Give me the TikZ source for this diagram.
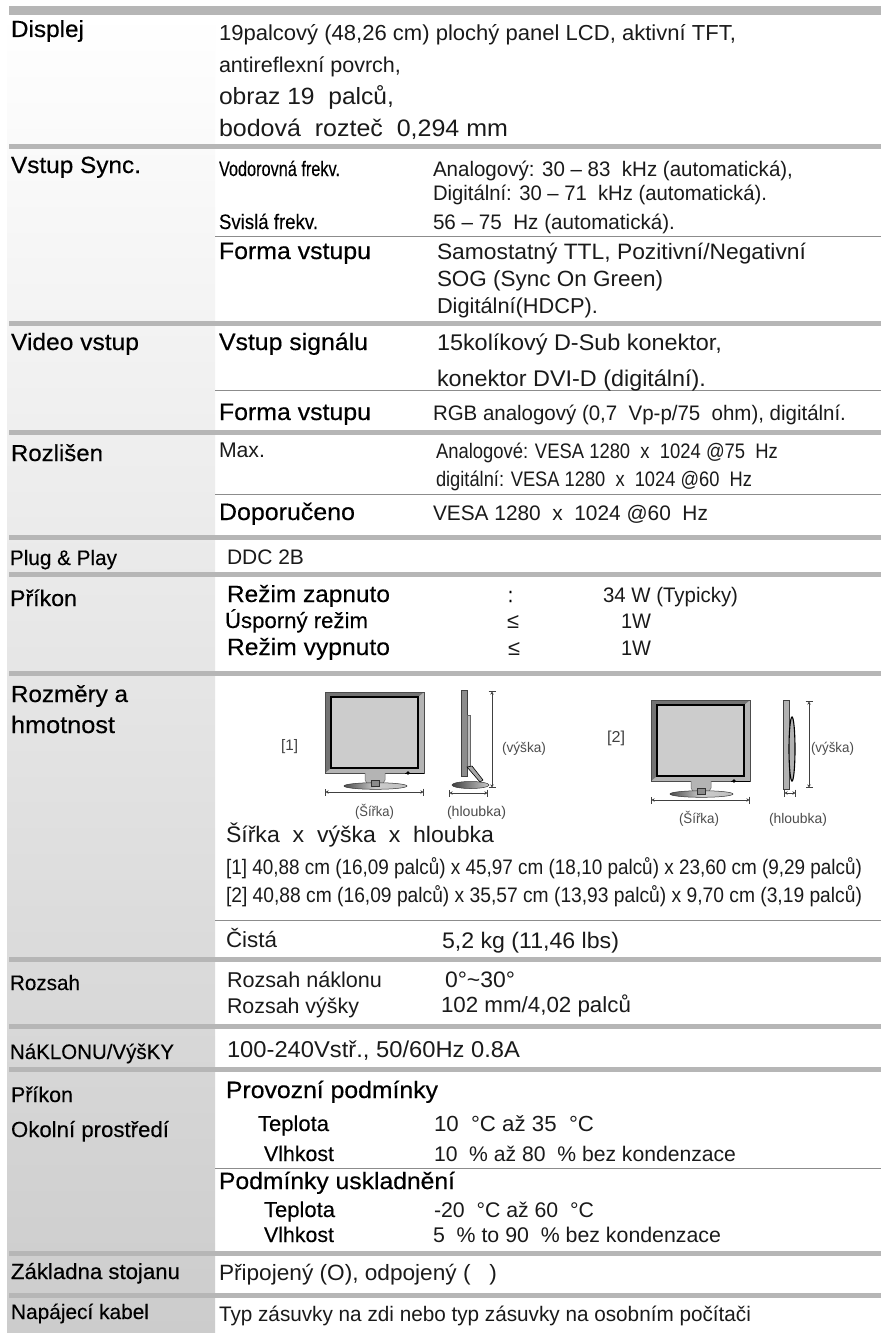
\documentclass[tikz,border=0pt]{standalone}
\usepackage{graphicx}
\usepackage{fontspec}
\usetikzlibrary{arrows.meta}
\setmainfont{Liberation Sans}
\newfontfamily\bodyf{Liberation Sans}
\newfontfamily\headf[FakeBold=0.4]{Liberation Sans}
\newfontfamily\semif[FakeBold=0.2]{Liberation Sans}
\newsavebox\fitbox
\newcommand\fitto[2]{\sbox\fitbox{#2}\pgfmathsetmacro\fitr{#1/\the\wd\fitbox}\pgfmathsetmacro\fitv{max(1,1+(\fitr-1)*0.7)}\scalebox{\fitr}[\fitv]{\usebox\fitbox}}
% name, style, x left, baseline, x right, text
\newcommand\T[6]{\pgfmathsetmacro\tw{#5-#3}\node[lbl,#2] (#1) at (#3,#4) {\fitto{\tw}{#6}};}
\definecolor{barc}{HTML}{B6B6B6}
\definecolor{linec}{HTML}{8C8C8C}
\definecolor{ink}{HTML}{1A1A1A}
\definecolor{scr}{HTML}{CCCCCC}
\definecolor{bez}{HTML}{B4B4B4}
\tikzset{
  lbl/.style={anchor=base west,inner sep=0pt,outer sep=0pt,text=ink},
  body/.style={font=\bodyf\fontsize{21}{21}\selectfont},
  head/.style={font=\headf\fontsize{21}{21}\selectfont,text=black},
  semi/.style={font=\semif\fontsize{21}{21}\selectfont,text=black},
  small/.style={font=\bodyf\fontsize{14}{14}\selectfont,text=black!70},
  tiny/.style={font=\bodyf\fontsize{15}{15}\selectfont,text=black!75},
  barline/.style={fill=barc,draw=none},
  rowline/.style={draw=linec,line width=1pt},
  dimline/.style={draw=black!75,line width=.6pt,{Bar[width=7pt].Stealth[length=3pt,width=3.5pt]}-{Stealth[length=3pt,width=3.5pt].Bar[width=7pt]}},
}
\newcommand\monfront[2]{%
  \begin{scope}[shift={(#1,#2)}]
    \fill[bez] (0,0) rectangle (99,81);
    \fill[black!55] (0,0) -- (99,0) -- (93,5) -- (6,5) -- (6,76) -- (0,81) -- cycle;
    \draw[black!70,line width=.5pt] (0,0) rectangle (99,81);
    \draw[black,line width=1.4pt,fill=scr] (6,5) rectangle (93,76);
    \fill[bez] (40,81) -- (40,88) .. controls (40,91) and (43,92) .. (46,92) -- (54,92) .. controls (57,92) and (60,91) .. (60,88) -- (60,81) -- cycle;
    \draw[black!60,line width=.5pt] (40,81) -- (40,88) .. controls (40,91) and (43,92) .. (46,92) -- (54,92) .. controls (57,92) and (60,91) .. (60,88) -- (60,81);
    \draw[black!80,line width=.5pt,left color=black!70,right color=black!25,middle color=black!20] (50.5,94) ellipse [x radius=31.5,y radius=3.3];
    \draw[black!80,line width=.6pt,fill=black!45] (46,88) rectangle (54,94);
    \fill[black] (83,81) circle [radius=1.8];
    \draw[black,line width=.9pt] (80,81) -- (99,81);
    \draw[dimline] (0,100) -- (99,100);
  \end{scope}}
\begin{document}
\begin{tikzpicture}[x=1pt,y=-1pt]
\useasboundingbox (0,0) rectangle (881,1333);
\fill[white] (0,0) rectangle (881,1333);
\shade[top color=white,bottom color=black!20,middle color=black!10] (7,12) rectangle (215,1333);
% heavy bars
\foreach \a/\b in {6/15,144/149,321/326,430/435,535/540,572/577,671/676,957/962,1024/1029,1067/1072,1251/1256,1293/1298}
  \fill[barline] (9,\a) rectangle (881,\b);
% thin lines
\foreach \a in {236,390,494,920,1168}
  \draw[rowline] (215,\a) -- (881,\a);

% Displej
\T{h1}{head}{11}{37}{84}{Displej}
\T{d1}{body}{219}{40}{736}{19palcový (48,26 cm) plochý panel LCD, aktivní TFT,}
\T{d2}{body}{219}{72}{401}{antireflexní povrch,}
\T{d3}{body}{219}{104}{394}{obraz 19~ palců,}
\T{d4}{body}{219}{136}{508}{bodová~ rozteč~ 0,294 mm}
% Vstup Sync
\T{h2}{head}{11}{173}{141}{Vstup Sync.}
\T{s1}{semi}{219}{176}{340}{Vodorovná frekv.}
\T{s2}{body}{433}{176}{793}{Analogový: 30 – 83~ kHz (automatická),}
\T{s3}{body}{433}{200}{767}{Digitální: 30 – 71~ kHz (automatická).}
\T{s4}{semi}{219}{229}{318}{Svislá frekv.}
\T{s5}{body}{433}{229}{675}{56 – 75~ Hz (automatická).}
\T{s6}{head}{219}{259}{371}{Forma vstupu}
\T{s7}{body}{437}{259}{806}{Samostatný TTL, Pozitivní/Negativní}
\T{s8}{body}{437}{286}{663}{SOG (Sync On Green)}
\T{s9}{body}{437}{313}{598}{Digitální(HDCP).}
% Video
\T{h3}{head}{11}{350}{139}{Video vstup}
\T{v1}{head}{219}{350}{368}{Vstup signálu}
\T{v2}{body}{437}{350}{722}{15kolíkový D-Sub konektor,}
\T{v3}{body}{437}{386}{706}{konektor DVI-D (digitální).}
\T{v4}{head}{219}{420}{371}{Forma vstupu}
\T{v5}{body}{433}{420}{846}{RGB analogový (0,7~ Vp-p/75~ ohm), digitální.}
% Rozliseni
\T{h4}{head}{11}{461}{103}{Rozlišen}
\T{r1}{body}{219}{457}{265}{Max.}
\T{r2}{body}{436}{458}{778}{Analogové: VESA 1280~ x~ 1024 @75~ Hz}
\T{r3}{body}{436}{486}{752}{digitální: VESA 1280~ x~ 1024 @60~ Hz}
\T{r4}{head}{219}{520}{355}{Doporučeno}
\T{r5}{body}{433}{520}{708}{VESA 1280~ x~ 1024 @60~ Hz}
% Plug
\T{h5}{semi}{10}{565}{117}{Plug \& Play}
\T{p1}{body}{227}{564}{304}{DDC 2B}
% Prikon
\T{h6}{head}{10}{606}{77}{Příkon}
\T{k1}{semi}{227}{602}{390}{Režim zapnuto}
\T{k2}{semi}{225}{628}{368}{Úsporný režim}
\T{k3}{semi}{227}{655}{390}{Režim vypnuto}
\T{k4}{head}{508}{602}{513}{:}
\T{k5}{body}{507}{628}{519}{≤}
\T{k6}{body}{508}{655}{520}{≤}
\T{k7}{body}{603}{602}{738}{34 W (Typicky)}
\T{k8}{body}{621}{628}{651}{1W}
\T{k9}{body}{621}{655}{651}{1W}
% Rozmery
\T{h7}{head}{11}{702}{128}{Rozměry a}
\T{h7b}{head}{11}{733}{115}{hmotnost}
\T{m1}{tiny}{281}{750}{298}{[1]}
\T{m2}{tiny}{607}{742}{625}{[2]}
\monfront{325}{692}
\monfront{651}{700}
% side 1
\draw[black!75,line width=.5pt,fill=black!45] (461,690) rectangle (467,776);
\draw[black!60,line width=.4pt,fill=black!25] (467,715) rectangle (470,767);
\draw[black!80,line width=.5pt,left color=black!75,right color=black!20] (470.5,785) ellipse [x radius=18.5,y radius=3.5];
\draw[black,line width=.6pt,fill=black!35] (467,767) -- (472,766) -- (483,780) -- (480,782) -- cycle;
\draw[dimline] (492,691) -- (492,788);
\draw[dimline] (449,793) -- (488,793);
\T{m3}{small}{502}{752}{546}{(výška)}
\T{m4}{small}{355}{816}{394}{(Šířka)}
\T{m5}{small}{447}{816}{506}{(hloubka)}
% side 2
\draw[black!75,line width=.5pt,fill=black!30] (783,700) rectangle (789,789);
\draw[black!60,line width=.4pt,fill=black!25] (789,725) rectangle (791,767);
\draw[black,line width=1.1pt,fill=black!30] (792,749) ellipse [x radius=3,y radius=32];
\draw[dimline] (809,701) -- (809,788);
\draw[dimline] (784,793) -- (796,793);
\T{m6}{small}{811}{752}{854}{(výška)}
\T{m7}{small}{679}{823}{719}{(Šířka)}
\T{m8}{small}{769}{823}{827}{(hloubka)}
\T{m9}{body}{226}{842}{494}{Šířka~ x~ výška~ x~ hloubka}
\T{m10}{body}{226}{874}{862}{[1] 40,88 cm (16,09 palců) x 45,97 cm (18,10 palců) x 23,60 cm (9,29 palců)}
\T{m11}{body}{226}{902}{862}{[2] 40,88 cm (16,09 palců) x 35,57 cm (13,93 palců) x 9,70 cm (3,19 palců)}
\T{m12}{body}{226}{947}{277}{Čistá}
\T{m13}{body}{442}{948}{619}{5,2 kg (11,46 lbs)}
% Rozsah
\T{h8}{semi}{10}{990}{80}{Rozsah}
\T{z1}{body}{227}{987}{382}{Rozsah náklonu}
\T{z2}{body}{227}{1013}{359}{Rozsah výšky}
\T{z3}{body}{445}{987}{515}{0°\textasciitilde 30°}
\T{z4}{body}{441}{1012}{631}{102 mm/4,02 palců}
% Naklonu
\T{h9}{semi}{10}{1059}{174}{NáKLONU/VýšKY}
\T{n1}{body}{227}{1057}{520}{100-240Vstř., 50/60Hz 0.8A}
% Prostredi
\T{h10}{semi}{11}{1102}{73}{Příkon}
\T{h10b}{semi}{11}{1137}{169}{Okolní prostředí}
\T{e1}{head}{226}{1098}{438}{Provozní podmínky}
\T{e2}{semi}{258}{1131}{329}{Teplota}
\T{e3}{body}{434}{1131}{594}{10~ °C až 35~ °C}
\T{e4}{semi}{264}{1161}{334}{Vlhkost}
\T{e5}{body}{434}{1161}{736}{10~ \% až 80~ \% bez kondenzace}
\T{e6}{head}{219}{1189}{455}{Podmínky uskladnění}
\T{e7}{semi}{264}{1217}{335}{Teplota}
\T{e8}{body}{434}{1217}{594}{-20~ °C až 60~ °C}
\T{e9}{semi}{264}{1242}{334}{Vlhkost}
\T{e10}{body}{433}{1242}{721}{5~ \% to 90~ \% bez kondenzace}
% Zakladna
\T{h11}{head}{11}{1279}{180}{Základna stojanu}
\T{b1}{body}{219}{1280}{497}{Připojený (O), odpojený (~~~)}
% Kabel
\T{h12}{semi}{11}{1319}{149}{Napájecí kabel}
\T{c1}{body}{219}{1321}{751}{Typ zásuvky na zdi nebo typ zásuvky na osobním počítači}
\end{tikzpicture}
\end{document}
